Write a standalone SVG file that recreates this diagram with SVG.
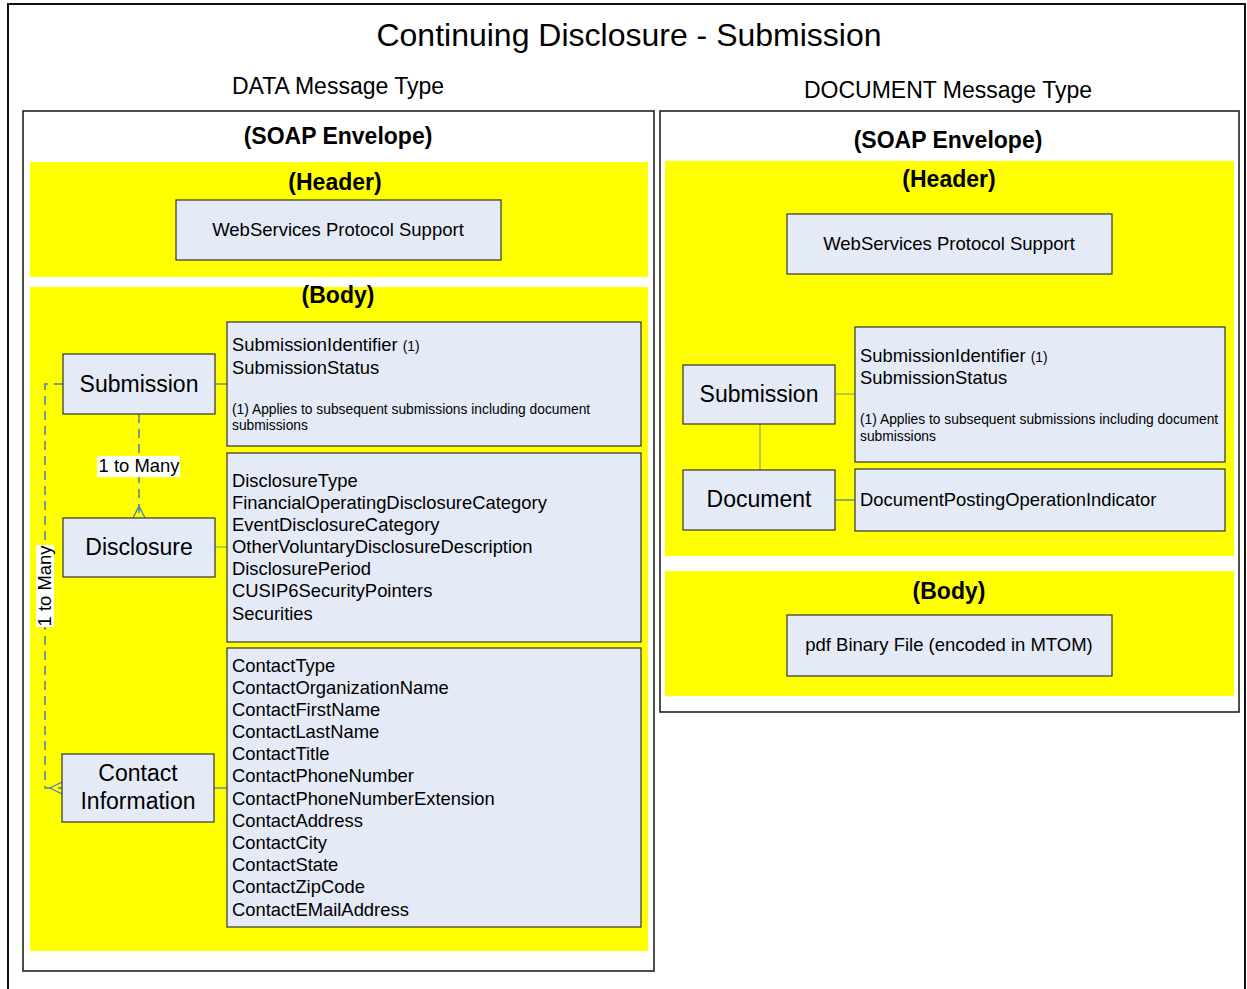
<svg xmlns="http://www.w3.org/2000/svg" width="1247" height="989" viewBox="0 0 1247 989">
<style>
text{font-family:"Liberation Sans",Arial,sans-serif;fill:#000}
.panel{fill:#fff;stroke:#222;stroke-width:1.6}
.yel{fill:#ffff00}
.box{fill:#e5ebf6;stroke:#333;stroke-width:1.2}
.h{font-weight:bold;font-size:23px;text-anchor:middle}
.c{text-anchor:middle}
.a{font-size:18.4px}
.s{font-size:13.8px}
.blue{stroke:#4a7ebb;stroke-width:1.3;fill:none}
.olive{stroke:#9bbb59;stroke-width:1.5;fill:none}
.dash{stroke:#4a7ebb;stroke-width:1.5;fill:none;stroke-dasharray:9 6}
</style>
<rect x="0" y="0" width="1247" height="989" fill="#fff"/>
<rect x="8" y="4" width="1237" height="995" fill="none" stroke="#111" stroke-width="2"/>
<text x="629" y="46" font-size="32" class="c">Continuing Disclosure - Submission</text>
<text x="338" y="94" font-size="23" class="c">DATA Message Type</text>
<text x="948" y="98" font-size="23" class="c">DOCUMENT Message Type</text>

<g id="data-panel">
<rect class="panel" x="23" y="111" width="631" height="860"/>
<text class="h" x="338" y="144">(SOAP Envelope)</text>
<rect class="yel" x="30" y="162" width="618" height="115"/>
<text class="h" x="335" y="190">(Header)</text>
<rect class="yel" x="30" y="287" width="618" height="664"/>
<text class="h" x="338" y="303">(Body)</text>
</g>
<g id="doc-panel">
<rect class="panel" x="660" y="111" width="579" height="601"/>
<text class="h" x="948" y="148">(SOAP Envelope)</text>
<rect class="yel" x="665" y="161" width="569" height="395"/>
<text class="h" x="949" y="187">(Header)</text>
<rect class="yel" x="665" y="571" width="569" height="125"/>
<text class="h" x="949" y="599">(Body)</text>
</g>

<g id="connectors">
<line class="blue" x1="215" y1="384" x2="227" y2="384"/>
<line class="olive" x1="215" y1="547" x2="227" y2="547"/>
<line class="blue" x1="214" y1="788" x2="227" y2="788"/>
<line class="dash" x1="139" y1="414" x2="139" y2="518"/>
<path class="blue" d="M139 506 L133 518 M139 506 L145 518"/>
<path class="dash" d="M63 384 H45 V788 H62"/>
<path class="blue" d="M50 788 L62 782 M50 788 L62 794"/>
<rect x="97" y="456" width="83" height="21" fill="#fff"/>
<text x="139" y="472" font-size="18.4" class="c">1 to Many</text>
<rect x="36" y="545" width="18" height="82" fill="#fff"/>
<text x="0" y="0" font-size="18.4" class="c" transform="translate(51 586) rotate(-90)">1 to Many</text>
<line class="olive" x1="835" y1="394" x2="855" y2="394"/>
<line class="olive" x1="760" y1="424" x2="760" y2="470"/>
<line class="blue" x1="835" y1="500" x2="855" y2="500"/>
</g>

<g id="data-ws">
<rect class="box" x="176" y="200" width="325" height="60"/>
<text x="338" y="236" font-size="18.5" class="c">WebServices Protocol Support</text>
</g>
<g id="data-submission">
<rect class="box" x="63" y="354" width="152" height="60"/>
<text x="139" y="392" font-size="23" class="c">Submission</text>
</g>
<g id="data-disclosure">
<rect class="box" x="63" y="518" width="152" height="59"/>
<text x="139" y="555" font-size="23" class="c">Disclosure</text>
</g>
<g id="data-contact">
<rect class="box" x="62" y="754" width="152" height="68"/>
<text x="138" y="781" font-size="23" class="c">Contact</text>
<text x="138" y="809" font-size="23" class="c">Information</text>
</g>
<g id="data-sub-attrs">
<rect class="box" x="227" y="322" width="414" height="124"/>
<text x="232" y="351" class="a">SubmissionIdentifier <tspan class="s">(1)</tspan></text>
<text x="232" y="374" class="a">SubmissionStatus</text>
<text x="232" y="414" class="s">(1) Applies to subsequent submissions including document</text>
<text x="232" y="430" class="s">submissions</text>
</g>
<g id="data-disc-attrs">
<rect class="box" x="227" y="453" width="414" height="189"/>
<text x="232" y="487" class="a">DisclosureType</text>
<text x="232" y="509" class="a">FinancialOperatingDisclosureCategory</text>
<text x="232" y="531" class="a">EventDisclosureCategory</text>
<text x="232" y="553" class="a">OtherVoluntaryDisclosureDescription</text>
<text x="232" y="575" class="a">DisclosurePeriod</text>
<text x="232" y="597" class="a">CUSIP6SecurityPointers</text>
<text x="232" y="620" class="a">Securities</text>
</g>
<g id="data-contact-attrs">
<rect class="box" x="227" y="648" width="414" height="279"/>
<text x="232" y="672" class="a">ContactType</text>
<text x="232" y="694" class="a">ContactOrganizationName</text>
<text x="232" y="716" class="a">ContactFirstName</text>
<text x="232" y="738" class="a">ContactLastName</text>
<text x="232" y="760" class="a">ContactTitle</text>
<text x="232" y="782" class="a">ContactPhoneNumber</text>
<text x="232" y="805" class="a">ContactPhoneNumberExtension</text>
<text x="232" y="827" class="a">ContactAddress</text>
<text x="232" y="849" class="a">ContactCity</text>
<text x="232" y="871" class="a">ContactState</text>
<text x="232" y="893" class="a">ContactZipCode</text>
<text x="232" y="916" class="a">ContactEMailAddress</text>
</g>

<g id="doc-ws">
<rect class="box" x="787" y="214" width="325" height="60"/>
<text x="949" y="250" font-size="18.5" class="c">WebServices Protocol Support</text>
</g>
<g id="doc-submission">
<rect class="box" x="683" y="365" width="152" height="59"/>
<text x="759" y="402" font-size="23" class="c">Submission</text>
</g>
<g id="doc-document">
<rect class="box" x="683" y="470" width="152" height="60"/>
<text x="759" y="507" font-size="23" class="c">Document</text>
</g>
<g id="doc-sub-attrs">
<rect class="box" x="855" y="327" width="370" height="135"/>
<text x="860" y="362" class="a">SubmissionIdentifier <tspan class="s">(1)</tspan></text>
<text x="860" y="384" class="a">SubmissionStatus</text>
<text x="860" y="424" class="s">(1) Applies to subsequent submissions including document</text>
<text x="860" y="441" class="s">submissions</text>
</g>
<g id="doc-doc-attrs">
<rect class="box" x="855" y="469" width="370" height="62"/>
<text x="860" y="506" class="a">DocumentPostingOperationIndicator</text>
</g>
<g id="doc-body">
<rect class="box" x="787" y="615" width="325" height="61"/>
<text x="949" y="651" font-size="18.5" class="c">pdf Binary File (encoded in MTOM)</text>
</g>
</svg>
